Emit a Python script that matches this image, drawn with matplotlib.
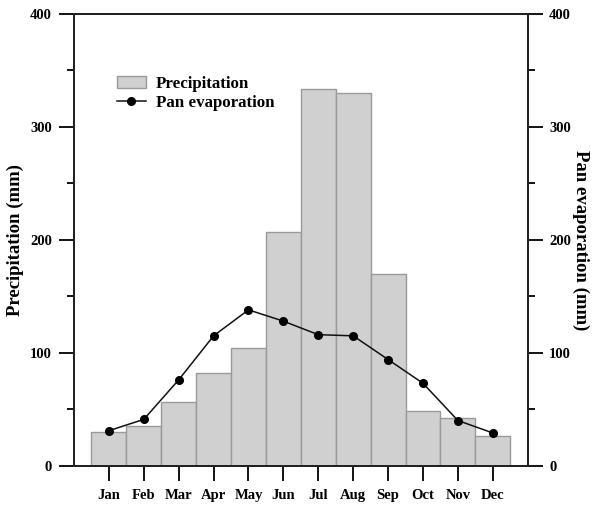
import matplotlib
matplotlib.use("Agg")
import matplotlib.pyplot as plt
import numpy as np

months = ["Jan", "Feb", "Mar", "Apr", "May", "Jun",
          "Jul", "Aug", "Sep", "Oct", "Nov", "Dec"]
precip = [30, 35, 56, 82, 104, 207, 334, 330, 170, 48, 42, 26]
pan_evap = [31, 41, 76, 115, 138, 128, 116, 115, 94, 73, 40, 29]

plt.rcParams["font.family"] = "Liberation Serif"
plt.rcParams["font.weight"] = "bold"

fig = plt.figure(figsize=(5.93, 5.07), dpi=100)
ax = fig.add_axes([0.1248, 0.0815, 0.765, 0.8909])

x = np.arange(1, len(months) + 1)
bars = ax.bar(x, precip, width=1.0, color="#d0d0d0", edgecolor="#9a9a9a",
              linewidth=1.0, label="Precipitation", zorder=2)
line, = ax.plot(x, pan_evap, color="#111111", linewidth=1.1, marker="o",
                markersize=5.5, markerfacecolor="black", markeredgecolor="black",
                label="Pan evaporation", zorder=3)

major = [0, 100, 200, 300, 400]
minor = [50, 150, 250, 350]

ax.set_xlim(0, 13)
ax.set_ylim(0, 400)
ax.set_xticks(x)
ax.set_xticklabels(months, fontsize=10.5, fontweight="bold")
ax.set_yticks(major)
ax.set_yticks(minor, minor=True)
ax.tick_params(axis="x", direction="out", length=10.5, width=1.3, pad=6)
ax.tick_params(axis="y", which="major", direction="out", length=10.5,
               width=1.3, labelsize=10.5, pad=5.5)
ax.tick_params(axis="y", which="minor", direction="out", length=5, width=1.3)
for lab in ax.get_yticklabels():
    lab.set_fontweight("bold")
for s in ax.spines.values():
    s.set_linewidth(1.4)
    s.set_color("#222222")

ax.set_ylabel("Precipitation (mm)", fontsize=13.5, fontweight="bold",
              labelpad=4)

# right axis for pan evaporation, same scale
ax2 = ax.twinx()
ax2.set_ylim(0, 400)
ax2.set_yticks(major)
ax2.set_yticks(minor, minor=True)
ax2.tick_params(axis="y", which="major", direction="out", length=10.5,
                width=1.3, labelsize=10.5, pad=5)
ax2.tick_params(axis="y", which="minor", direction="out", length=5, width=1.3)
for lab in ax2.get_yticklabels():
    lab.set_fontweight("bold")
for s in ax2.spines.values():
    s.set_linewidth(1.4)
    s.set_color("#222222")
ax2.set_ylabel("Pan evaporation (mm)", fontsize=13.5, fontweight="bold",
               rotation=270, labelpad=13)

ax.legend([bars, line], ["Precipitation", "Pan evaporation"],
          loc="upper left", bbox_to_anchor=(0.094, 0.863), frameon=False,
          borderpad=0, borderaxespad=0, handlelength=1.75,
          handletextpad=0.55, labelspacing=0.2,
          prop={"weight": "bold", "size": 12.2})

fig.savefig("out.png", dpi=100)
